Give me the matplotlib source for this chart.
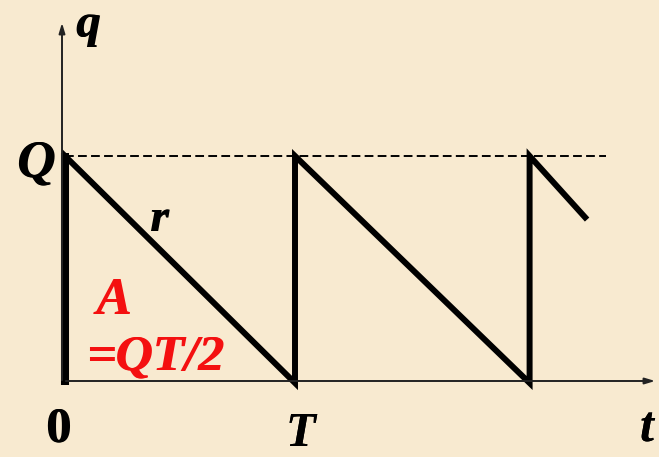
import matplotlib

matplotlib.use("Agg")
import matplotlib.pyplot as plt

# inventory level q over time t (T = 1, Q = 1)
saw_t = [0.0, 0.0, 1.0, 1.0, 2.02, 2.02, 2.27]
saw_q = [0.0, 1.0, 0.0, 1.0, 0.0, 1.0, 0.72]
Q_LEVEL = 1.0
DASH_END = 2.35

BG = "#F8EAD0"
W, H = 659, 457

fig = plt.figure(figsize=(W / 100, H / 100), dpi=100, facecolor=BG)
ax = fig.add_axes([0, 0, 1, 1])
ax.set_facecolor(BG)
ax.set_axis_off()

# pixel layout: t=0 at x=65, t=T at x=295; q=0 at y=383, q=Q at y=156
x0, xs = 65, 230
y0, ys = 383, 227
ax.set_xlim(-x0 / xs, (W - x0) / xs)
ax.set_ylim(-(H - y0) / ys, y0 / ys)


def px(x, y):
    return x / W, 1 - y / H


def label(x, y, s, size, color="black", italic=True):
    # draw twice with a tiny shift to get the heavy look of the original
    for dx in (0, 0.8):
        ax.text(*px(x + dx, y), s, fontsize=size, color=color, ha="center", va="baseline",
                transform=ax.transAxes, family="Liberation Serif", weight="bold",
                style="italic" if italic else "normal")


# axes with arrows
ax.annotate("", xy=px(658, 381), xytext=px(63, 381), xycoords="axes fraction",
            arrowprops=dict(arrowstyle="-|>,head_length=0.6,head_width=0.18", color="#222222", lw=1.4))
ax.annotate("", xy=px(62, 20), xytext=px(62, 383), xycoords="axes fraction",
            arrowprops=dict(arrowstyle="-|>,head_length=0.6,head_width=0.18", color="#222222", lw=1.4))

# dashed Q level
ax.plot([0, DASH_END], [Q_LEVEL, Q_LEVEL], color="black", lw=1.4, ls=(0, (4.5, 2.2)))

# sawtooth
ax.plot(saw_t, saw_q, color="black", lw=4.3, solid_capstyle="butt", solid_joinstyle="miter")
ax.plot([saw_t[0], saw_t[1]], [saw_q[0] - 0.01, saw_q[1] + 0.015], color="black", lw=5.8, solid_capstyle="butt")

label(88, 37, "q", 35)
label(35, 177, "Q", 38)
label(158, 231, "r", 34)
label(300, 446, "T", 35)
label(646, 441, "t", 36)
label(58, 442, "0", 36, italic=False)

red = "#F41010"
label(113, 314, "A", 38, color=red)
label(155, 370, "=QT/2", 37, color=red)

fig.savefig("out.png", dpi=100, facecolor=BG)
